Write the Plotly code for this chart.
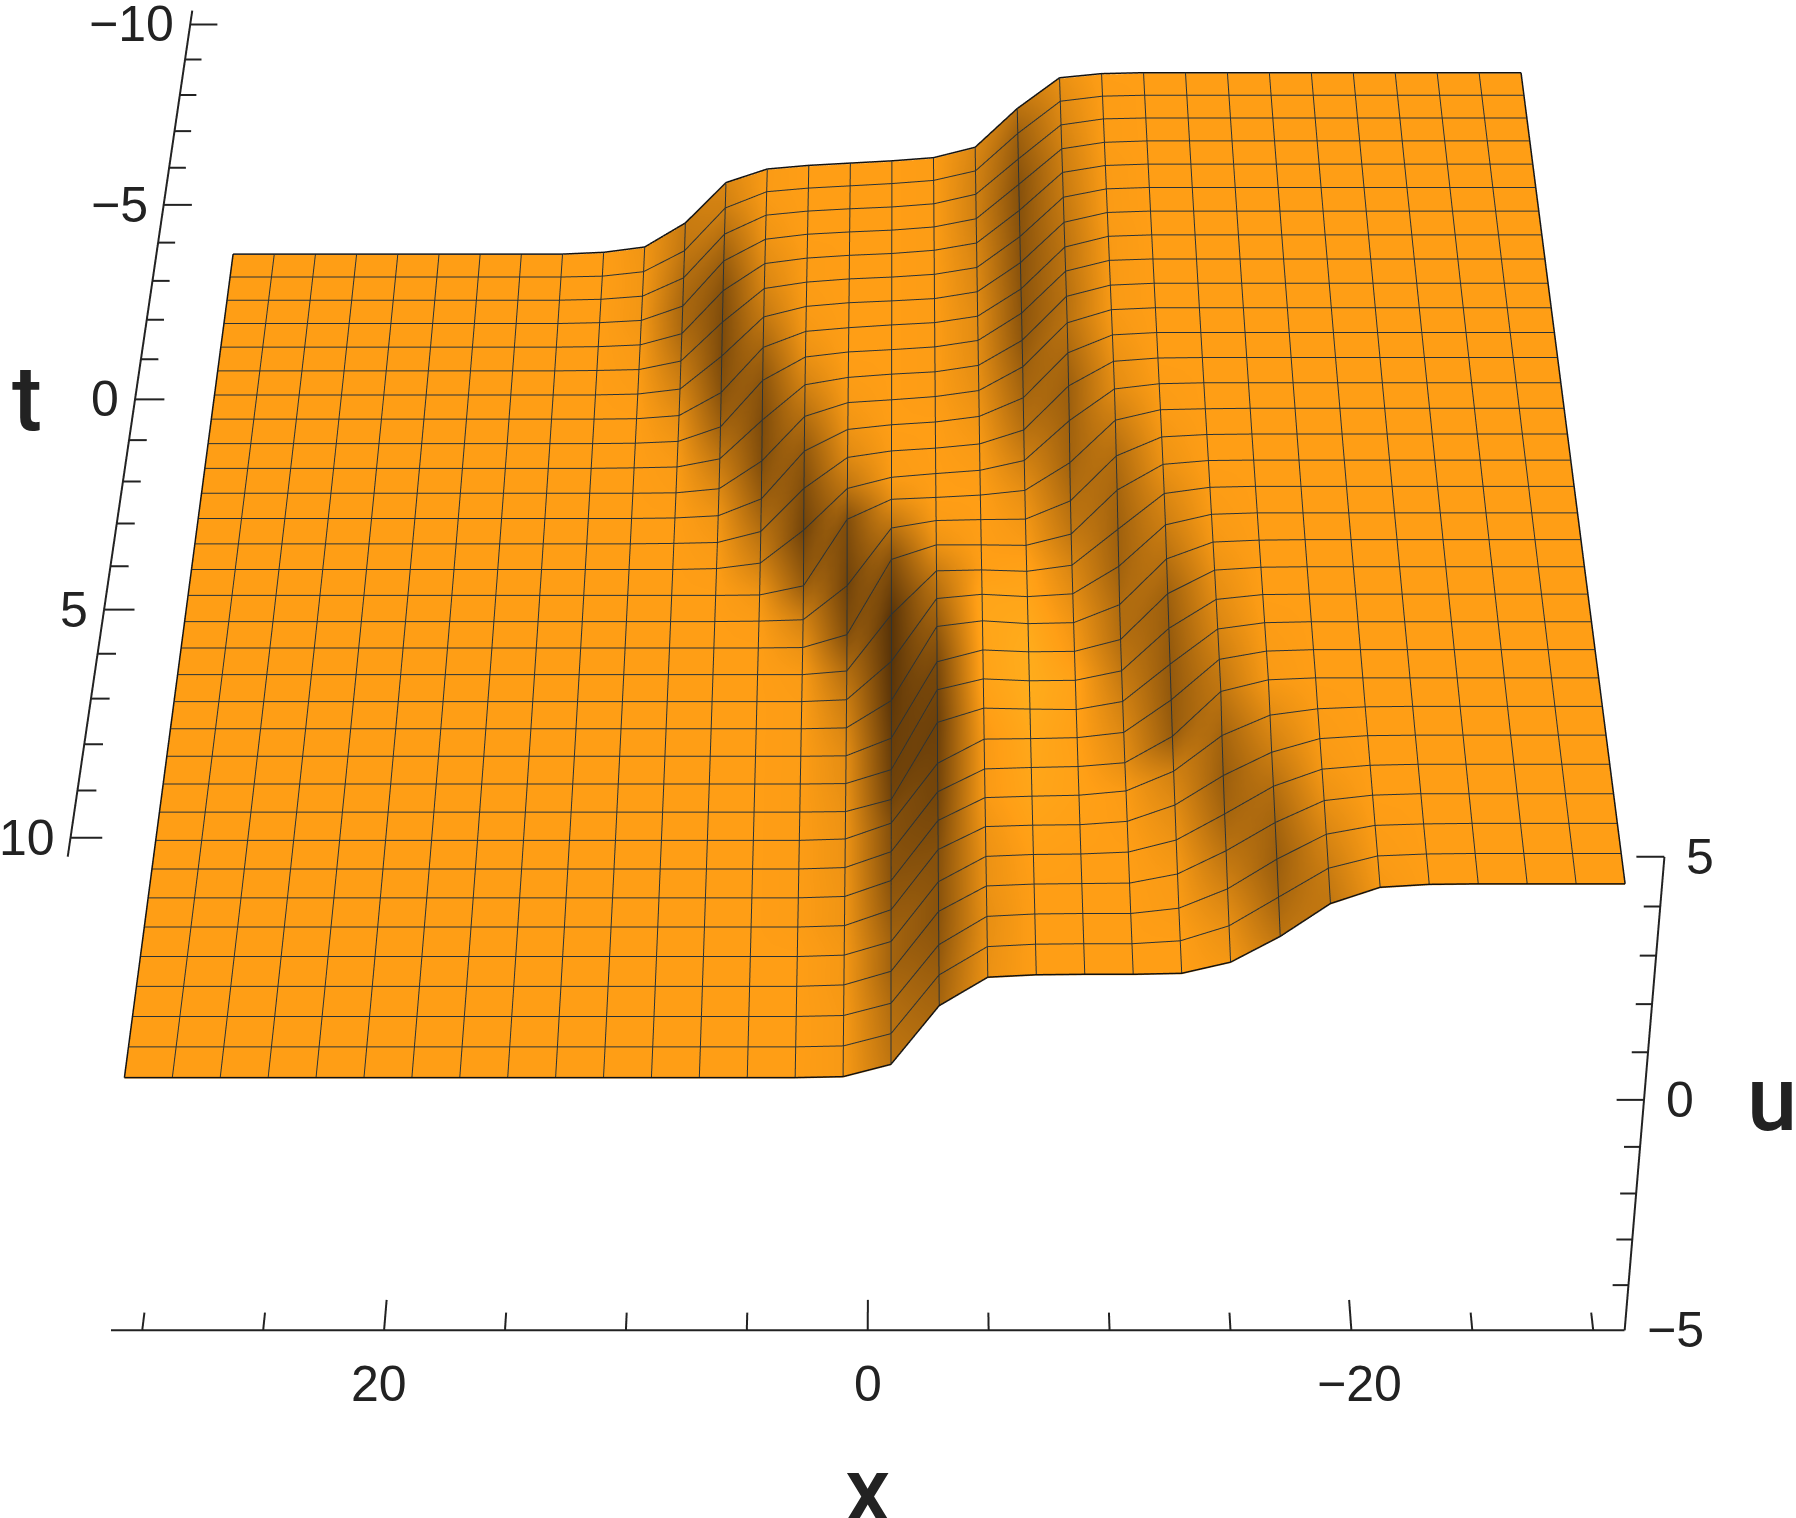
"""Surface u(x, t) with two kinks, Mathematica-style box axes."""

import numpy as np
import plotly.graph_objects as go

# grid of the surface, mesh lines sit on every grid line
x_vals = np.linspace(-30, 30, 32)
t_vals = np.linspace(-9.85, 10, 32)

# u, one row per t (far edge first), columns x = -30 ... 30
u_grid = [
    [4.05]*10 + [4.03, 3.94, 3.27, 2.42, 2.19, 2.12, 2.07, 2.02, 1.94, 1.64, 0.74, 0.20, 0.08] + [0.04]*9,
    [4.05]*10 + [4.03, 3.92, 3.22, 2.40, 2.19, 2.12, 2.07, 2.02, 1.94, 1.58, 0.63, 0.16, 0.06] + [0.04]*9,
    [4.05]*10 + [4.03, 3.90, 3.16, 2.39, 2.18, 2.11, 2.07, 2.02, 1.93, 1.51, 0.54, 0.13, 0.06] + [0.04]*9,
    [4.05]*10 + [4.02, 3.88, 3.11, 2.36, 2.18, 2.11, 2.07, 2.02, 1.91, 1.43, 0.43, 0.11, 0.06] + [0.04]*9,
    [4.05]*10 + [4.02, 3.87, 3.05, 2.34, 2.18, 2.11, 2.07, 2.01, 1.89, 1.29, 0.34, 0.09, 0.05] + [0.04]*9,
    [4.05]*10 + [4.02, 3.84, 2.99, 2.32, 2.17, 2.11, 2.07, 2.00, 1.86, 1.12, 0.26, 0.07, 0.05] + [0.04]*9,
    [4.05]*10 + [4.02, 3.81, 2.94, 2.31, 2.16, 2.11, 2.07, 1.99, 1.76, 0.90, 0.17, 0.06, 0.04] + [0.04]*9,
    [4.05]*10 + [4.02, 3.79, 2.89, 2.30, 2.16, 2.11, 2.05, 1.97, 1.62, 0.63, 0.12, 0.05, 0.04] + [0.04]*9,
    [4.05]*10 + [4.02, 3.79, 2.89, 2.30, 2.16, 2.10, 2.05, 1.94, 1.43, 0.41, 0.09, 0.05, 0.04] + [0.04]*9,
    [4.05]*10 + [4.01, 3.77, 2.83, 2.29, 2.15, 2.10, 2.03, 1.87, 1.10, 0.25, 0.07, 0.05, 0.04] + [0.04]*9,
    [4.05]*10 + [4.01, 3.73, 2.79, 2.28, 2.15, 2.08, 2.02, 1.72, 0.75, 0.14, 0.05, 0.04, 0.04] + [0.04]*9,
    [4.05]*10 + [4.00, 3.62, 2.66, 2.26, 2.14, 2.08, 1.98, 1.51, 0.47, 0.10, 0.05, 0.04, 0.04] + [0.04]*9,
    [4.05]*9 + [4.04, 3.97, 3.45, 2.51, 2.21, 2.12, 2.06, 1.92, 1.25, 0.31, 0.07, 0.05, 0.04, 0.04] + [0.04]*9,
    [4.05]*9 + [4.03, 3.92, 3.25, 2.40, 2.19, 2.12, 2.04, 1.80, 0.90, 0.18, 0.06, 0.04, 0.04, 0.04] + [0.04]*9,
    [4.05]*8 + [4.04, 4.02, 3.80, 2.90, 2.31, 2.21, 2.16, 2.12, 1.69, 0.25, 0.05, 0.04, 0.04, 0.04, 0.04] + [0.04]*9,
    [4.05]*8 + [4.04, 3.99, 3.59, 2.64, 2.25, 2.24, 2.22, 2.06, 0.82, 0.08, 0.05, 0.04, 0.04, 0.04, 0.04] + [0.04]*9,
    [4.05]*8 + [4.04, 3.96, 3.42, 2.49, 2.25, 2.26, 2.26, 1.95, 0.33, 0.05, 0.04, 0.04, 0.04, 0.04, 0.04] + [0.04]*9,
    [4.05]*8 + [4.03, 3.90, 3.15, 2.39, 2.26, 2.29, 2.27, 1.34, 0.12, 0.04, 0.04, 0.04, 0.04, 0.04, 0.04] + [0.04]*9,
    [4.05]*8 + [4.02, 3.80, 2.93, 2.35, 2.29, 2.34, 2.25, 0.91, 0.08, 0.04, 0.04, 0.04, 0.04, 0.04, 0.04] + [0.04]*9,
    [4.05]*7 + [4.04, 4.00, 3.65, 2.69, 2.31, 2.29, 2.35, 2.23, 0.65, 0.06, 0.04, 0.04, 0.04, 0.04, 0.04, 0.04] + [0.04]*9,
    [4.05]*7 + [4.04, 3.98, 3.49, 2.53, 2.28, 2.27, 2.31, 2.06, 0.43, 0.05, 0.04, 0.04, 0.04, 0.04, 0.04, 0.04] + [0.04]*9,
    [4.05]*7 + [4.04, 3.94, 3.34, 2.45, 2.25, 2.24, 2.28, 2.05, 0.35, 0.05, 0.04, 0.04, 0.04, 0.04, 0.04, 0.04] + [0.04]*9,
    [4.05]*7 + [4.03, 3.90, 3.17, 2.39, 2.22, 2.23, 2.25, 1.95, 0.31, 0.05, 0.04, 0.04, 0.04, 0.04, 0.04, 0.04] + [0.04]*9,
    [4.05]*7 + [4.02, 3.85, 3.01, 2.33, 2.22, 2.20, 2.19, 1.68, 0.41, 0.07, 0.04, 0.04, 0.04, 0.04, 0.04, 0.04] + [0.04]*9,
    [4.05]*7 + [4.01, 3.77, 2.84, 2.29, 2.21, 2.19, 2.16, 1.68, 0.41, 0.07, 0.04, 0.04, 0.04, 0.04, 0.04, 0.04] + [0.04]*9,
    [4.05]*4 + [4.05, 4.04, 4.00, 3.87, 3.45, 2.71, 2.30, 2.21, 2.19, 2.16, 1.68, 0.41, 0.07, 0.04, 0.04, 0.04, 0.04, 0.04, 0.04] + [0.04]*9,
    [4.05]*4 + [4.05, 4.04, 3.98, 3.70, 3.22, 2.61, 2.27, 2.20, 2.19, 2.16, 1.68, 0.41, 0.07, 0.04, 0.04, 0.04, 0.04, 0.04, 0.04] + [0.04]*9,
    [4.05]*4 + [4.05, 4.03, 3.95, 3.60, 3.03, 2.49, 2.24, 2.20, 2.19, 2.15, 1.62, 0.36, 0.07, 0.04, 0.04, 0.04, 0.04, 0.04, 0.04] + [0.04]*9,
    [4.05]*4 + [4.05, 4.02, 3.91, 3.46, 2.88, 2.40, 2.21, 2.20, 2.19, 2.15, 1.62, 0.36, 0.07, 0.04, 0.04, 0.04, 0.04, 0.04, 0.04] + [0.04]*9,
    [4.05]*3 + [4.05, 4.04, 4.01, 3.83, 3.32, 2.71, 2.31, 2.20, 2.20, 2.19, 2.14, 1.55, 0.32, 0.06] + [0.04]*15,
    [4.05]*3 + [4.05, 4.04, 4.00, 3.75, 3.16, 2.57, 2.26, 2.20, 2.20, 2.19, 2.14, 1.55, 0.32, 0.06] + [0.04]*15,
    [4.05]*3 + [4.05, 4.04, 3.98, 3.65, 2.98, 2.45, 2.22, 2.20, 2.20, 2.19, 2.14, 1.55, 0.32, 0.06] + [0.04]*15,
]

# brightness of the sheet at each grid point (1 = plain orange),
# same layout as u_grid, columns 0-4 and 23-31 are plain
shade_grid = [
    [1.0]*5 + [1, 1, 1, 1, 1, 1, .91, .71, .85, .99, 1, 1, 1, .98, .85, .77, .94, 1] + [1.0]*9,
    [1.0]*5 + [1, 1, 1, 1, 1, .99, .87, .60, .82, .99, 1, 1, 1, .98, .80, .74, .95, 1] + [1.0]*9,
    [1.0]*5 + [1, 1, 1, 1, 1, .99, .84, .55, .81, .99, 1, 1, 1, .96, .69, .68, .95, 1] + [1.0]*9,
    [1.0]*5 + [1, 1, 1, 1, 1, .99, .80, .50, .81, .99, 1, 1, 1, .93, .58, .64, .95, 1] + [1.0]*9,
    [1.0]*5 + [1, 1, 1, 1, 1, .98, .78, .50, .83, .99, 1, 1, .99, .88, .49, .66, .97, 1] + [1.0]*9,
    [1.0]*5 + [1, 1, 1, 1, 1, .98, .76, .51, .85, .99, 1, 1, .99, .83, .46, .74, .98, 1] + [1.0]*9,
    [1.0]*5 + [1, 1, 1, 1, 1, .98, .74, .51, .86, .99, 1, 1, .98, .75, .46, .82, .99, 1] + [1.0]*9,
    [1.0]*5 + [1, 1, 1, 1, 1, .97, .72, .52, .88, .99, 1, 1, .96, .63, .51, .90, 1, 1] + [1.0]*9,
    [1.0]*5 + [1, 1, 1, 1, 1, .97, .72, .52, .88, .99, 1, 1, .91, .52, .61, .95, 1, 1] + [1.0]*9,
    [1.0]*5 + [1, 1, 1, 1, 1, .97, .70, .54, .89, .99, 1, .99, .82, .46, .75, .98, 1, 1] + [1.0]*9,
    [1.0]*5 + [1, 1, 1, 1, 1, .97, .71, .59, .91, .99, 1, .97, .69, .48, .86, .99, 1, 1] + [1.0]*9,
    [1.0]*5 + [1, 1, 1, 1, 1, .95, .65, .64, .94, 1, 1, .93, .55, .58, .94, 1, 1, 1] + [1.0]*9,
    [1.0]*5 + [1, 1, 1, 1, 1, .91, .59, .71, .97, 1, .99, .86, .47, .70, .97, 1, 1, 1] + [1.0]*9,
    [1.0]*5 + [1, 1, 1, 1, .99, .88, .60, .81, .99, 1, .98, .72, .41, .81, .99, 1, 1, 1] + [1.0]*9,
    [1.0]*5 + [1, 1, 1, 1, .98, .78, .62, .90, 1, 1, .90, .48, .58, .95, 1, 1, 1, 1] + [1.0]*9,
    [1.0]*5 + [1, 1, 1, 1, .95, .68, .69, .95, 1, .98, .70, .41, .82, .99, 1, 1, 1, 1] + [1.0]*9,
    [1.0]*5 + [1, 1, 1, 1, .92, .63, .75, .98, 1, .92, .49, .49, .92, 1, 1, 1, 1, 1] + [1.0]*9,
    [1.0]*5 + [1, 1, 1, .99, .85, .60, .84, 1.03, 1, .77, .31, .68, .98, 1, 1, 1, 1, 1] + [1.0]*9,
    [1.0]*5 + [1, 1, 1, .98, .79, .61, .89, 1.05, 1.05, .66, .31, .78, .99, 1, 1, 1, 1, 1] + [1.0]*9,
    [1.0]*5 + [1, 1, 1, .96, .70, .67, .94, 1.08, 1.05, .56, .33, .84, .99, 1, 1, 1, 1, 1] + [1.0]*9,
    [1.0]*5 + [1, 1, 1, .92, .60, .69, .97, 1.10, 1.04, .45, .37, .89, .99, 1, 1, 1, 1, 1] + [1.0]*9,
    [1.0]*5 + [1, 1, 1, .88, .57, .75, 1.03, 1.10, 1.03, .42, .39, .90, .99, 1, 1, 1, 1, 1] + [1.0]*9,
    [1.0]*5 + [1, 1, .99, .84, .55, .81, 1.02, 1.09, 1.00, .39, .42, .92, .99, 1, 1, 1, 1, 1] + [1.0]*9,
    [1.0]*5 + [1, 1, .98, .78, .55, .86, 1.01, 1.07, .97, .41, .49, .93, .99, 1, 1, 1, 1, 1] + [1.0]*9,
    [1.0]*5 + [1, 1, .97, .73, .58, .90, 1.02, 1.06, .97, .42, .50, .93, .99, 1, 1, 1, 1, 1] + [1.0]*9,
    [1.0]*5 + [1, .99, .88, .62, .81, .98, 1.02, 1.05, .97, .45, .52, .94, .99, 1, 1, 1, 1, 1] + [1.0]*9,
    [1.0]*5 + [1, .98, .79, .58, .88, .99, 1.01, 1.03, .94, .49, .56, .94, .99, 1, 1, 1, 1, 1] + [1.0]*9,
    [1.0]*5 + [1, .96, .69, .63, .93, 1, 1, 1.01, .92, .51, .62, .96, 1, 1, 1, 1, 1, 1] + [1.0]*9,
    [1.0]*5 + [1, .91, .62, .72, .97, 1, 1, 1, .92, .51, .62, .96, 1, 1, 1, 1, 1, 1] + [1.0]*9,
    [1.0]*5 + [.99, .84, .58, .82, .98, 1, 1, 1, .90, .54, .68, .97, 1, 1, 1, 1, 1, 1] + [1.0]*9,
    [1.0]*5 + [.98, .78, .63, .91, 1, 1, 1, 1, .91, .59, .71, .97, 1, 1, 1, 1, 1, 1] + [1.0]*9,
    [1.0]*5 + [.96, .74, .73, .96, 1, 1, 1, 1, .92, .63, .74, .97, 1, 1, 1, 1, 1, 1] + [1.0]*9,
]

x_ticks = [30, 25, 20, 15, 10, 5, 0, -5, -10, -15, -20, -25, -30]
x_labels = [20, 0, -20]
x_label_shift = [-5, 0, 8]
t_ticks = list(range(-10, 11))
t_labels = [-10, -5, 0, 5, 10]
u_ticks = list(range(-5, 6))
u_labels = [-5, 0, 5]

x_lim = 31.3
t_lim = 10.4
u_lim = 5

MESH = "#2b3336"
AXIS = "#222222"
FONT = "Liberation Sans"

# brightness 0.2 ... 1.15 runs from dark brown through the sheet orange to a warm yellow
SHADE_MIN, SHADE_MAX = 0.2, 1.15
shade_scale = [[0, "#3f2306"], [0.842, "#FF9E15"], [1, "#FFB31F"]]


def label(val):
    return str(val).replace("-", "\u2212")


def segments(pairs):
    xs, ys, zs = [], [], []
    for a, b in pairs:
        xs += [a[0], b[0], None]
        ys += [a[1], b[1], None]
        zs += [a[2], b[2], None]
    return xs, ys, zs


def line_trace(pairs, color, width):
    xs, ys, zs = segments(pairs)
    return go.Scatter3d(x=xs, y=ys, z=zs, mode="lines", hoverinfo="skip",
                        line=dict(color=color, width=width), showlegend=False)


u_arr = np.array(u_grid)

fig = go.Figure()

fig.add_trace(go.Surface(
    x=x_vals, y=t_vals, z=u_arr,
    surfacecolor=shade_grid,
    cmin=SHADE_MIN,
    cmax=SHADE_MAX,
    colorscale=shade_scale,
    showscale=False,
    hoverinfo="skip",
    lighting=dict(ambient=1.0, diffuse=0.0, specular=0.0, roughness=1.0, fresnel=0.0),
))

# mesh on the grid lines, lifted a hair so the sheet does not swallow it
lift = 0.02
mesh = []
for i in range(32):
    for j in range(31):
        mesh.append(((x_vals[j], t_vals[i], u_arr[i, j] + lift),
                     (x_vals[j + 1], t_vals[i], u_arr[i, j + 1] + lift)))
        mesh.append(((x_vals[i], t_vals[j], u_arr[j, i] + lift),
                     (x_vals[i], t_vals[j + 1], u_arr[j + 1, i] + lift)))
fig.add_trace(line_trace(mesh, MESH, 2))

# outline of the sheet
edge = []
for j in range(31):
    edge.append(((x_vals[j], t_vals[0], u_arr[0, j] + lift), (x_vals[j + 1], t_vals[0], u_arr[0, j + 1] + lift)))
    edge.append(((x_vals[j], t_vals[31], u_arr[31, j] + lift), (x_vals[j + 1], t_vals[31], u_arr[31, j + 1] + lift)))
    edge.append(((-30, t_vals[j], u_arr[j, 0] + lift), (-30, t_vals[j + 1], u_arr[j + 1, 0] + lift)))
    edge.append(((30, t_vals[j], u_arr[j, 31] + lift), (30, t_vals[j + 1], u_arr[j + 1, 31] + lift)))
fig.add_trace(line_trace(edge, "#111111", 3))

# axes: Mathematica puts them on the box edges and has minor ticks, so draw them here
axis_pairs = [
    ((x_lim, t_lim, -u_lim), (-x_lim, t_lim, -u_lim)),
    ((x_lim, -t_lim, u_lim), (x_lim, t_lim, u_lim)),
    ((-x_lim, t_lim, -u_lim), (-x_lim, t_lim, u_lim)),
]
for v in x_ticks:
    ln = 0.62 if v in x_labels else 0.36
    axis_pairs.append(((v, t_lim, -u_lim), (v, t_lim - ln, -u_lim)))
for v in t_ticks:
    ln = 1.25 if v in t_labels else 0.75
    axis_pairs.append(((x_lim, v, u_lim), (x_lim - ln, v, u_lim)))
for v in u_ticks:
    ln = 1.1 if v in u_labels else 0.65
    axis_pairs.append(((-x_lim, t_lim, v), (-x_lim + ln, t_lim, v)))
fig.add_trace(line_trace(axis_pairs, AXIS, 4))

annotations = []
tick_font = dict(family=FONT, size=50, color=AXIS)
title_font = dict(family="Roboto", size=90, color=AXIS, weight=500)
for v, shift in zip(x_labels, x_label_shift):
    annotations.append(dict(x=v, y=t_lim, z=-u_lim, text=label(v), showarrow=False,
                            font=tick_font, yshift=-54, xshift=shift))
for v in t_labels:
    annotations.append(dict(x=x_lim, y=v, z=u_lim, text=label(v), showarrow=False,
                            font=tick_font, xanchor="right", xshift=-14))
for v in u_labels:
    annotations.append(dict(x=-x_lim, y=t_lim, z=v, text=label(v), showarrow=False,
                            font=tick_font, xanchor="left", xshift=20))
annotations.append(dict(x=0, y=t_lim, z=-u_lim, text="x", showarrow=False, font=title_font, yshift=-160))
annotations.append(dict(x=x_lim, y=0, z=u_lim, text="t", showarrow=False, font=title_font, xshift=-108))
annotations.append(dict(x=-x_lim, y=t_lim, z=0, text="u", showarrow=False, font=title_font, xshift=128))

hidden = dict(visible=False, showgrid=False, zeroline=False, showticklabels=False,
              showbackground=False, showspikes=False)

# pan of the view so the box lands where it does in the picture
look = dict(x=-0.02, y=0.0505, z=-0.071)
dist_y, dist_z = 3.951, 3.063

fig.update_layout(
    width=1796,
    height=1518,
    margin=dict(l=0, r=0, t=0, b=0),
    paper_bgcolor="white",
    showlegend=False,
    scene=dict(
        xaxis=dict(range=[-x_lim, x_lim], **hidden),
        yaxis=dict(range=[-t_lim, t_lim], **hidden),
        zaxis=dict(range=[-u_lim, u_lim], **hidden),
        aspectmode="manual",
        aspectratio=dict(x=1, y=1, z=0.4),
        camera=dict(
            up=dict(x=0, y=0, z=1),
            center=look,
            eye=dict(x=look["x"], y=look["y"] + dist_y, z=look["z"] + dist_z),
        ),
        annotations=annotations,
    ),
)

# plotly has no layout option for the field of view, the picture uses a long lens
FOVY = 2 * np.arctan(759 / 7150)
post = """
document.body.style.margin = '0';
var gd = document.getElementById('{plot_id}');
function setLens() {
  var s = gd._fullLayout && gd._fullLayout.scene && gd._fullLayout.scene._scene;
  if (s && s.glplot) { s.glplot.fovy = %f; s.glplot.redraw(); }
  else { setTimeout(setLens, 30); }
}
setLens();
""" % FOVY

fig.write_html("out.html", post_script=post, config={"displayModeBar": False})
